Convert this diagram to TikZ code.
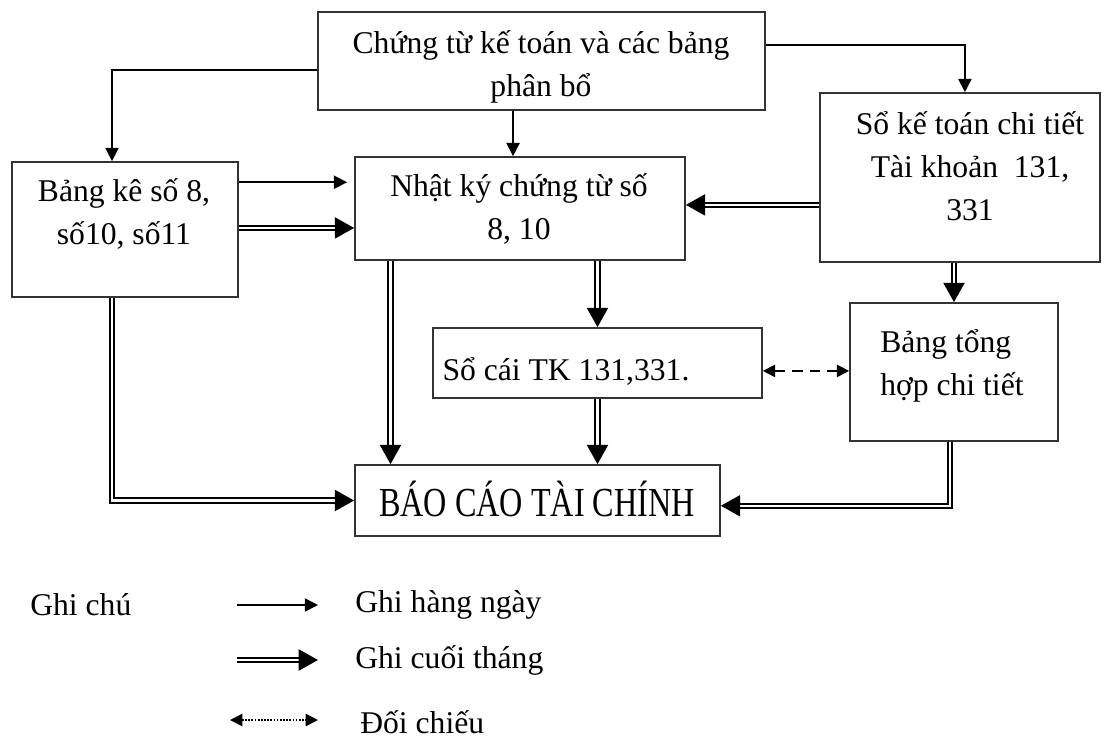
\documentclass[tikz,border=0pt]{standalone}
\usepackage{fontspec}
\setmainfont{Liberation Serif}
\newfontfamily\condserif{Liberation Serif}[FakeStretch=0.78]
\usetikzlibrary{arrows.meta,fit,calc}
\begin{document}
\begin{tikzpicture}[x=0.02cm,y=-0.02cm,
  box/.style={draw=black!80, line width=1pt, inner sep=0pt},
  txt/.style={font=\fontsize{18}{24.5}\selectfont, align=center, inner sep=0pt},
  day/.style={draw, line width=0.9pt, -{Triangle[length=7.5pt,width=7.5pt]}},
  month/.style={draw, line width=1.15pt, double, double distance=1.2pt, -{Triangle[length=11pt,width=12pt]}},
  cmp/.style={draw, line width=1pt, dash pattern=on 6pt off 4pt, {Triangle[length=7pt,width=7pt]}-{Triangle[length=7pt,width=7pt]}},
  cmpdot/.style={draw, line width=0.8pt, dash pattern=on 1pt off 0.8pt, {Triangle[length=7pt,width=7pt]}-{Triangle[length=7pt,width=7pt]}}
]
\useasboundingbox (0,0) rectangle (1107,745);

% boxes
\node[box, fit={(318,12) (765,110)}] (top) {};
\node[box, fit={(12,162) (238,297)}] (bangke) {};
\node[box, fit={(355,157) (685,260)}] (nhatky) {};
\node[box, fit={(820,93) (1100,262)}] (sokt) {};
\node[box, fit={(433,328) (762,398)}] (socai) {};
\node[box, fit={(850,303) (1058,441)}] (btth) {};
\node[box, fit={(355,465) (720,536)}] (baocao) {};

% texts
\node[txt] (ttop) at (541,67) {Chứng từ kế toán và các bảng\\phân bổ};
\node[txt] (tbangke) at (124,214) {Bảng kê số 8,\\số10, số11};
\node[txt] (tnhatky) at (519,209) {Nhật ký chứng từ số\\8, 10};
\node[txt] (tsokt) at (970,166) {Sổ kế toán chi tiết\\Tài khoản\ \ 131,\\331};
\node[txt] (tsocai) at (566,371) {Sổ cái TK 131,331.};
\node[txt, align=left, anchor=west] (tbtth) at (880,366) {Bảng tổng\\hợp chi tiết};
\node[txt, font=\condserif\fontsize{23.5}{28}\selectfont] (tbaocao) at (537,499) {BÁO CÁO TÀI CHÍNH};

% daily arrows
\draw[day] ([yshift=-5.1pt]top.west) -| ([xshift=-7.4pt]bangke.north);
\draw[day] ([xshift=-16.2pt]top.south) coordinate (c1) -- (c1 |- nhatky.north);
\draw[day] ([yshift=9.1pt]top.east) -| ([xshift=2.8pt]sokt.north);
\draw[day, shorten >=4pt] ([yshift=26.9pt]bangke.east) coordinate (c2) -- (c2 -| nhatky.west);

% month-end arrows
\draw[month] ([yshift=0.9pt]bangke.east) coordinate (c3) -- (c3 -| nhatky.west);
\draw[month] ([yshift=-15.6pt]sokt.west) coordinate (c4) -- (c4 -| nhatky.east);
\draw[month] (socai.north |- nhatky.south) -- (socai.north);
\draw[month] ([xshift=-73.7pt]nhatky.south) coordinate (c5) -- (c5 |- baocao.north);
\draw[month] ([xshift=-7.4pt]bangke.south) |- (baocao.west);
\draw[month] (socai.south) -- (socai.south |- baocao.north);
\draw[month] (btth.north |- sokt.south) -- (btth.north);
\draw[month] ([xshift=-2.3pt]btth.south) |- ([yshift=-3pt]baocao.east);

% comparison
\draw[cmp] ([yshift=-4.5pt]socai.east) coordinate (c6) -- (c6 -| btth.west);

% legend
\node[txt, anchor=west] (lg0) at (30,605) {Ghi chú};
\node[txt, anchor=west] (lg1) at (355,605) {Ghi hàng ngày};
\node[txt, anchor=west] (lg2) at (355,660) {Ghi cuối tháng};
\node[txt, anchor=west] (lg3) at (360,722) {Đối chiếu};
\coordinate (l1a) at (237,605); \coordinate (l1b) at (318,605);
\coordinate (l2a) at (237,660); \coordinate (l2b) at (318,660);
\coordinate (l3a) at (230,720); \coordinate (l3b) at (318,720);
\draw[day] (l1a) -- (l1b);
\draw[month] (l2a) -- (l2b);
\draw[cmpdot] (l3a) -- (l3b);
\end{tikzpicture}
\end{document}
